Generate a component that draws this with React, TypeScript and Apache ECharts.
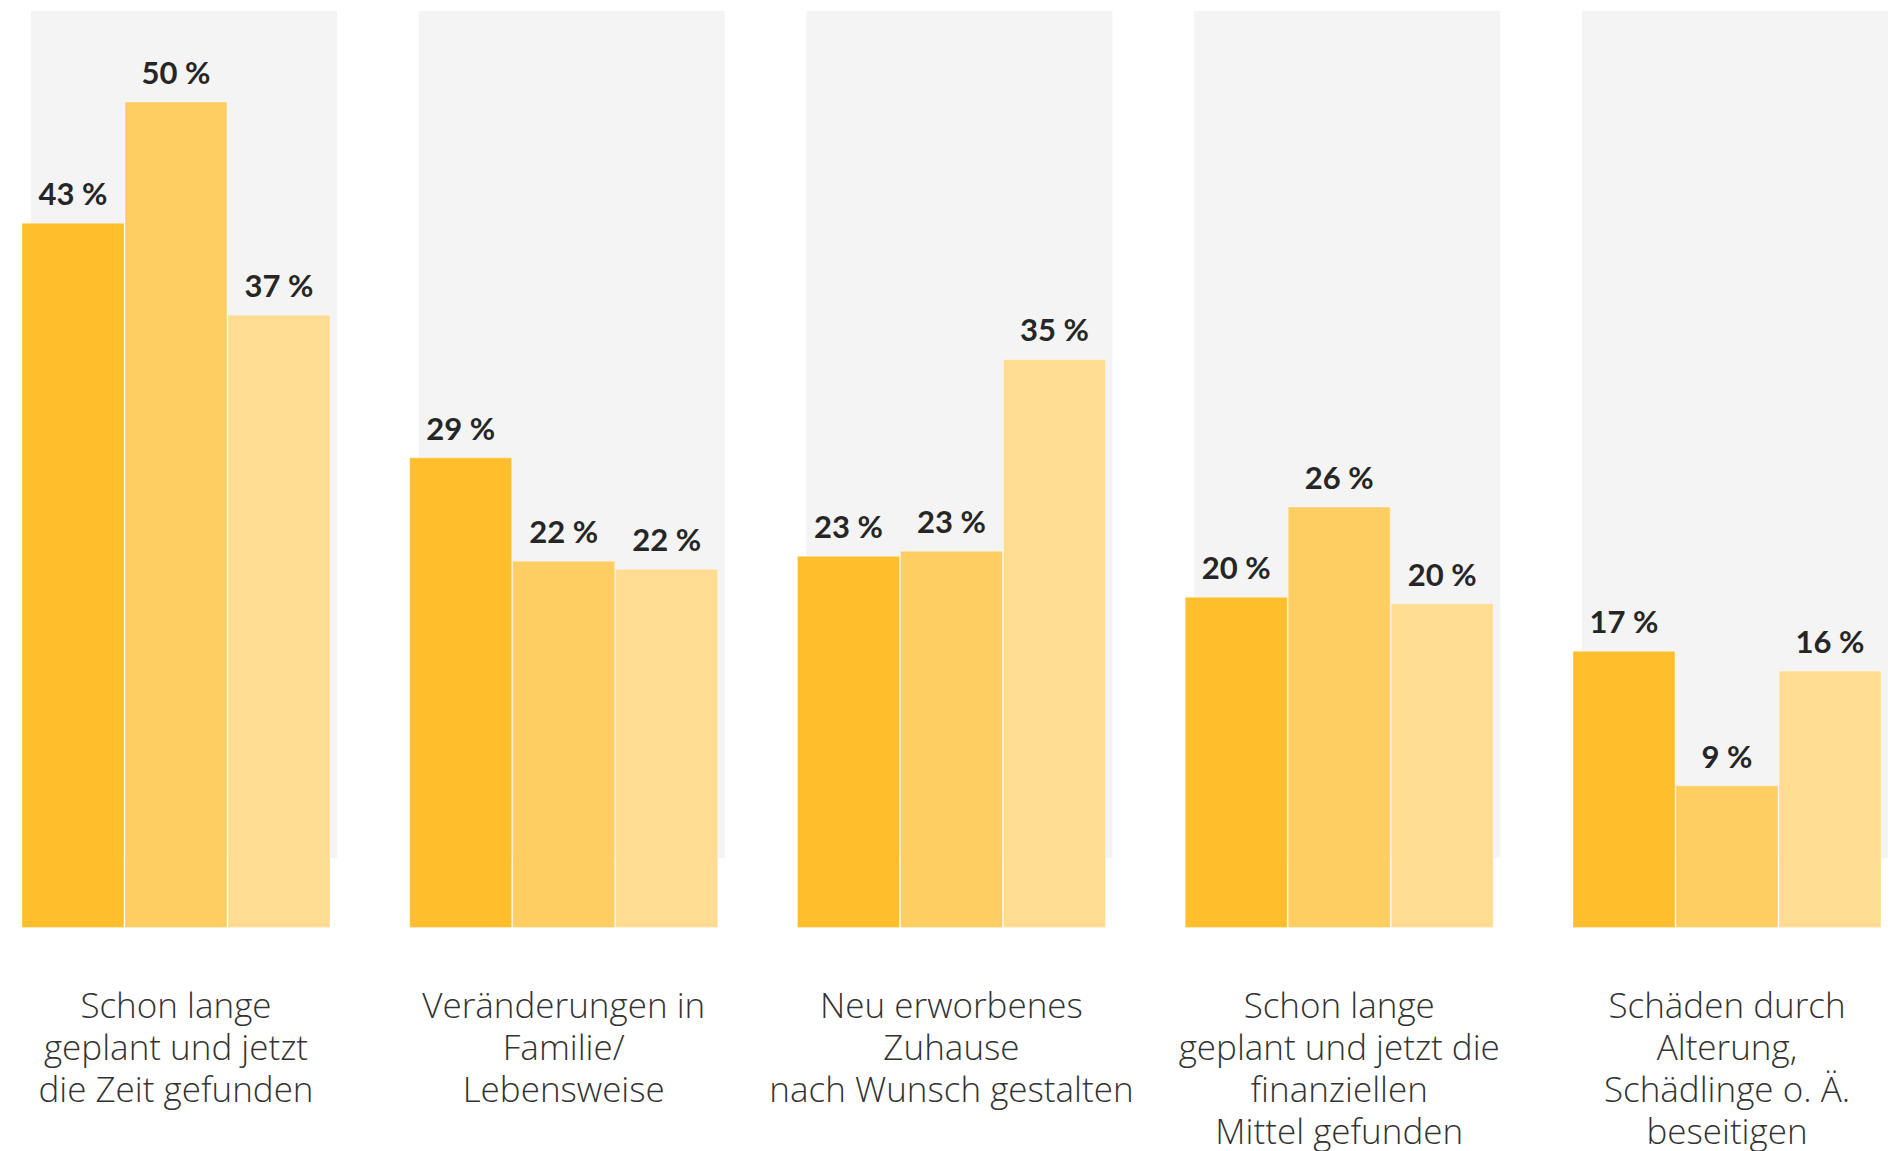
import React, { useEffect, useRef } from "react";
import * as echarts from "echarts";

const categories = [
  "Schon lange\ngeplant und jetzt\ndie Zeit gefunden",
  "Veränderungen in\nFamilie/\nLebensweise",
  "Neu erworbenes\nZuhause\nnach Wunsch gestalten",
  "Schon lange\ngeplant und jetzt die\nfinanziellen\nMittel gefunden",
  "Schäden durch\nAlterung,\nSchädlinge o. Ä.\nbeseitigen",
];

const seriesNames = ["Gruppe 1", "Gruppe 2", "Gruppe 3"];
// values; labels show the rounded percentage
const series1 = [43.0, 28.7, 22.7, 20.2, 16.9];
const series2 = [50.4, 22.4, 23.0, 25.7, 8.7];
const series3 = [37.4, 21.9, 34.7, 19.8, 15.7];
const backgroundValues = [1, 1, 1, 1, 1];

const colors = ["#FFBE2C", "#FFCE62", "#FFDC92"];

export default function App() {
  const ref = useRef<HTMLDivElement>(null);

  useEffect(() => {
    document.body.style.margin = "0";
    const chart = echarts.init(ref.current!, null, { renderer: "svg" });
    const gridLeft = -17.9;
    const gridWidth = 1938.75;
    const gridRight = 1896 - (gridLeft + gridWidth);
    const labelFont = "Lato, 'Open Sans', sans-serif";
    const axisFont = "'Open Sans', Lato, sans-serif";

    const valueSeries = [series1, series2, series3].map((d, i) => ({
      name: seriesNames[i],
      type: "bar",
      xAxisIndex: 0,
      yAxisIndex: 0,
      data: d,
      barWidth: 103,
      barGap: "0%",
      z: 3,
      itemStyle: {
        color: colors[i],
        borderColor: "rgba(255,255,255,0.35)",
        borderWidth: 1,
      },
      label: {
        show: true,
        position: "top",
        distance: 14,
        formatter: (p: any) => Math.round(p.value) + " %",
        fontFamily: labelFont,
        fontWeight: "bold",
        fontSize: 31,
        color: "#262626",
      },
    }));

    chart.setOption({
      animation: false,
      backgroundColor: "#ffffff",
      grid: [
        {
          left: gridLeft,
          right: gridRight,
          top: 26,
          bottom: 223,
          outerBoundsMode: "none",
          containLabel: false,
        },
        {
          left: gridLeft + 8,
          right: gridRight - 8,
          top: 11,
          bottom: 293,
          outerBoundsMode: "none",
          containLabel: false,
        },
      ],
      xAxis: [
        {
          type: "category",
          gridIndex: 0,
          data: categories,
          axisLine: { show: false },
          axisTick: { show: false },
          splitLine: { show: false },
          axisLabel: {
            interval: 0,
            margin: 55,
            fontFamily: axisFont,
            fontWeight: 300,
            fontSize: 35,
            lineHeight: 42,
            color: "#333333",
            align: "center",
          },
        },
        {
          type: "category",
          gridIndex: 1,
          data: categories,
          show: false,
        },
      ],
      yAxis: [
        {
          type: "value",
          gridIndex: 0,
          min: 0,
          max: 55,
          show: false,
          splitLine: { show: false },
        },
        {
          type: "value",
          gridIndex: 1,
          min: 0,
          max: 1,
          show: false,
          splitLine: { show: false },
        },
      ],
      series: [
        {
          name: "Hintergrund",
          type: "bar",
          xAxisIndex: 1,
          yAxisIndex: 1,
          data: backgroundValues,
          barWidth: 306,
          z: 1,
          silent: true,
          itemStyle: { color: "#F4F4F4" },
          label: { show: false },
        },
        ...valueSeries,
      ],
    });

    return () => chart.dispose();
  }, []);

  return (
    <div
      ref={ref}
      style={{ position: "absolute", left: 0, top: 0, width: 1896, height: 1151 }}
    />
  );
}
